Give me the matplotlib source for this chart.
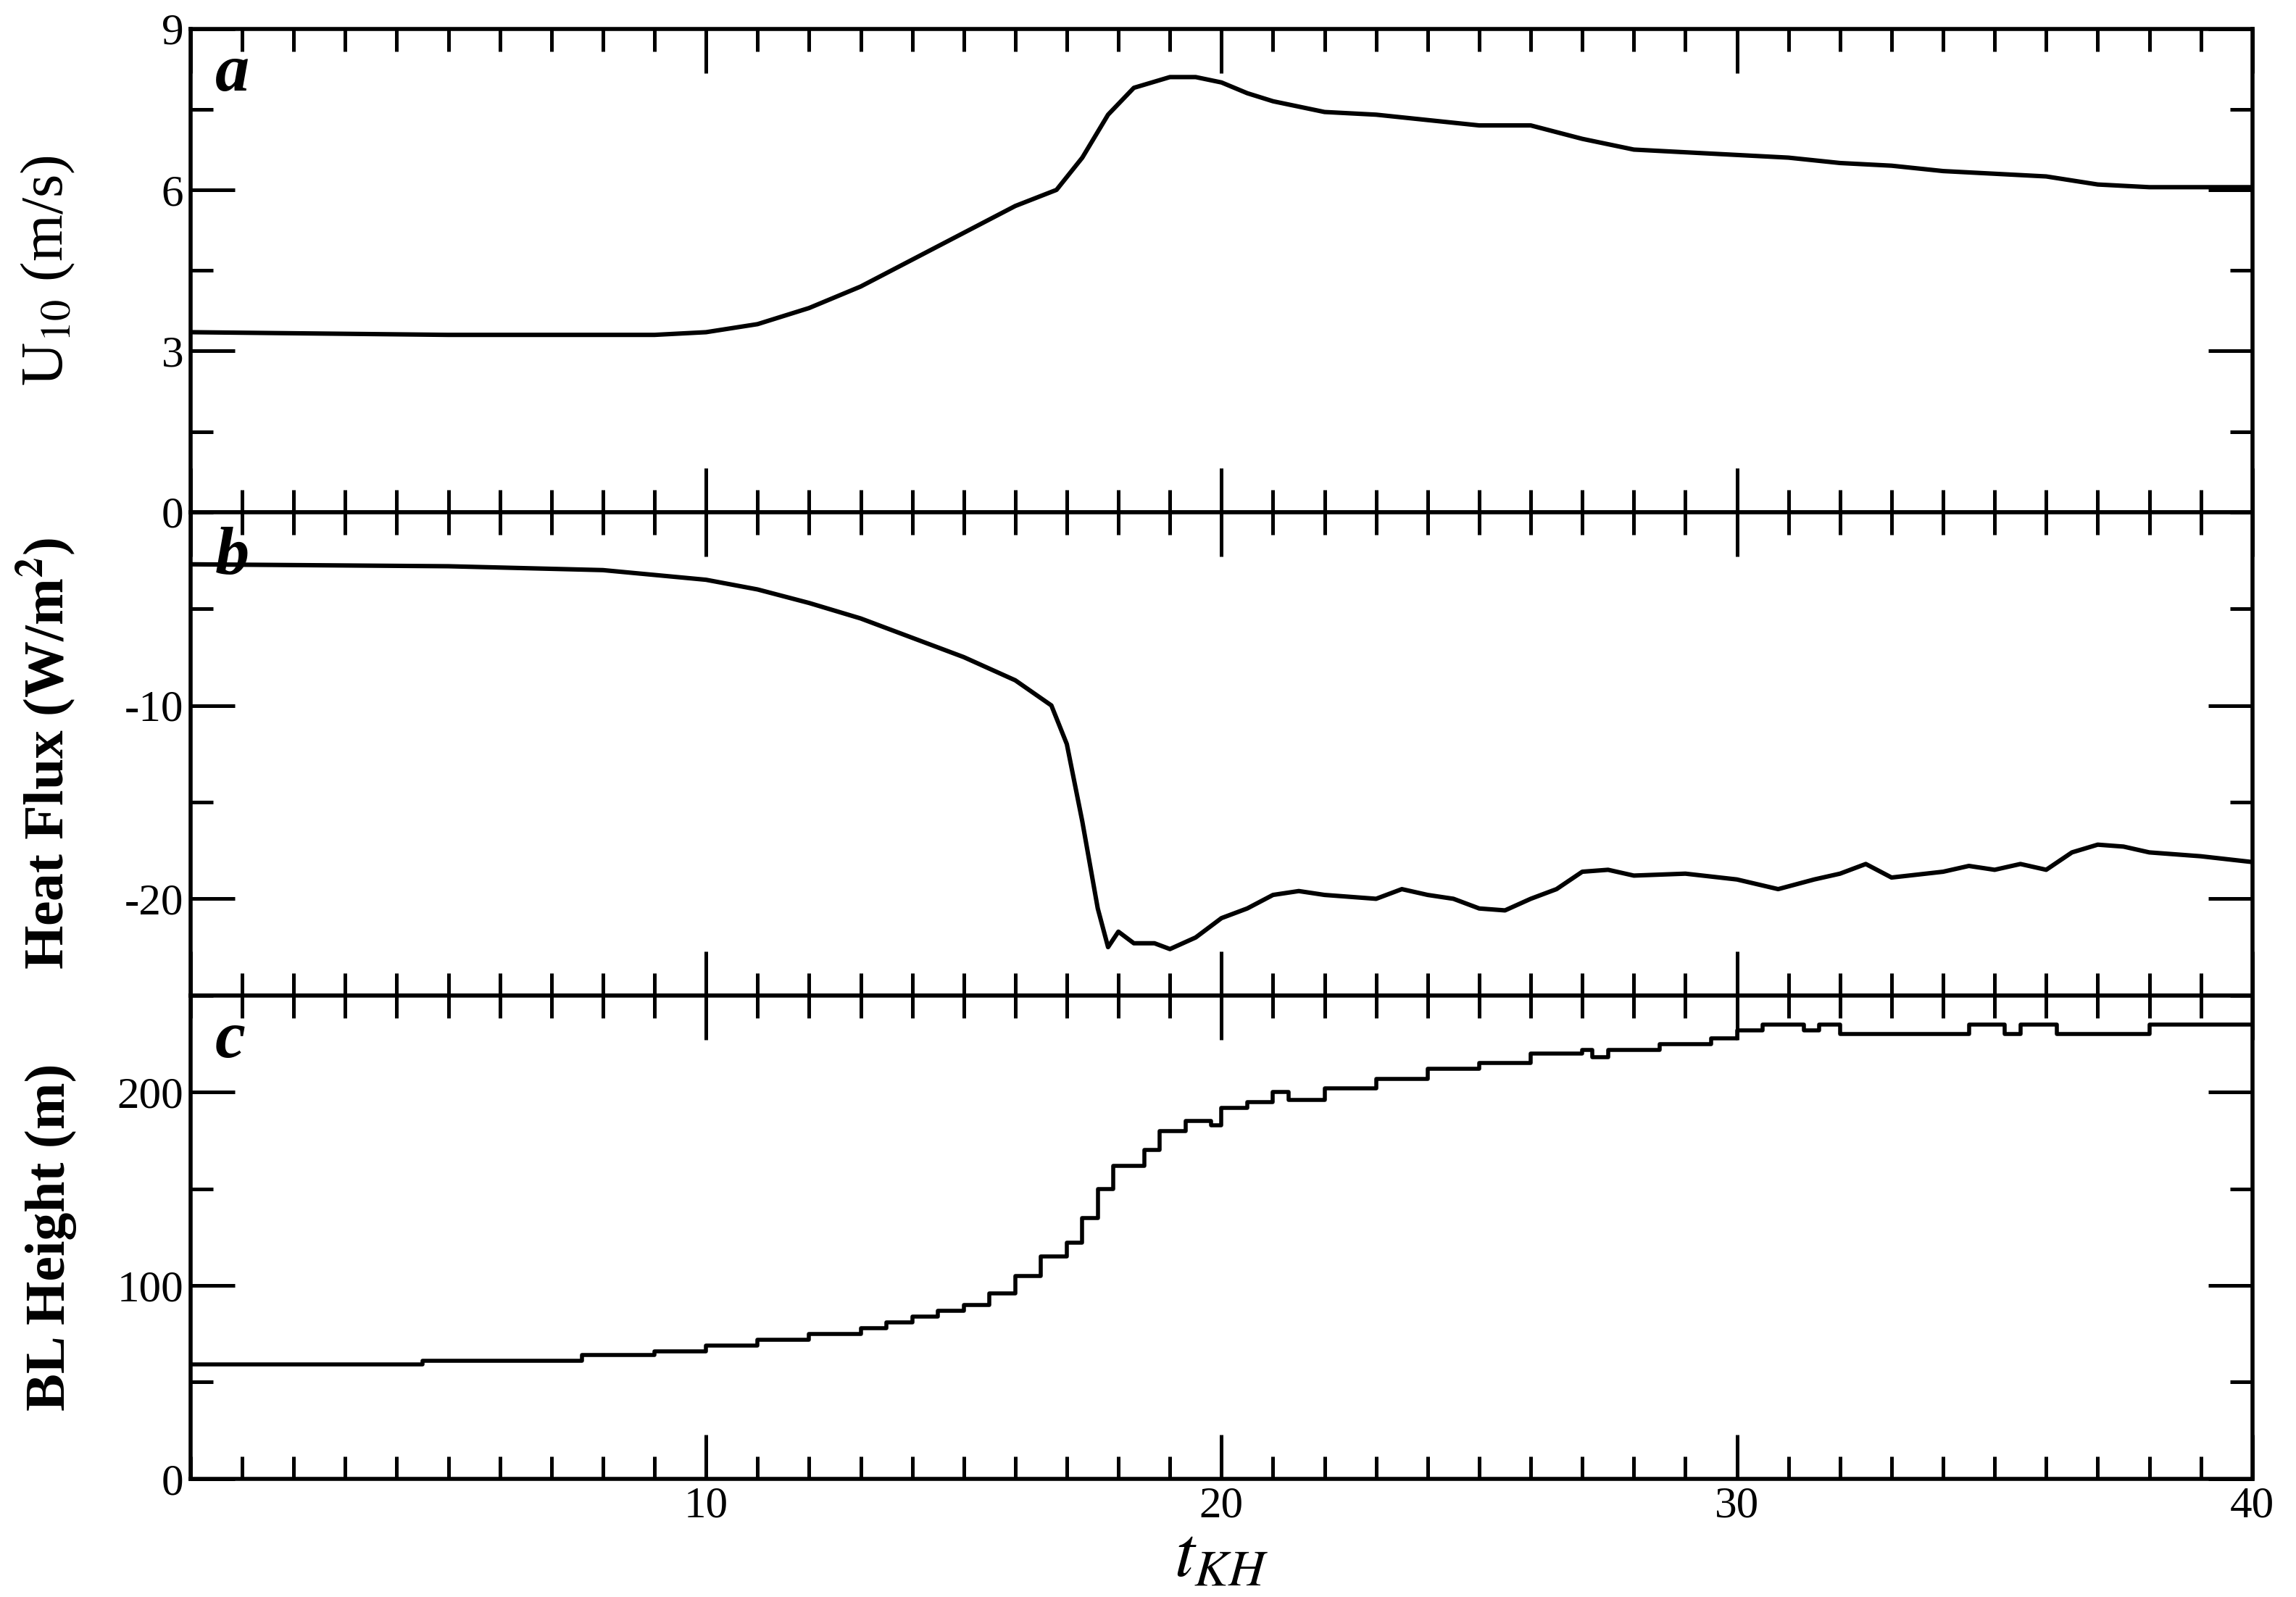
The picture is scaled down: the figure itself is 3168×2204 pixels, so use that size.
import matplotlib
matplotlib.use("Agg")
import matplotlib.pyplot as plt
from matplotlib.ticker import MultipleLocator, FixedLocator

plt.rcParams['font.family'] = ['Liberation Serif', 'DejaVu Serif']
plt.rcParams['mathtext.fontset'] = 'stix'
plt.rcParams['axes.unicode_minus'] = False

t_u = [0,5,9,10,11,12,13,14,15,16,16.8,17.3,17.8,18.3,19,19.5,20,20.5,21,22,23,24,25,26,27,28,29,30,31,32,33,34,35,36,37,38,40]
u10 = [3.35,3.3,3.3,3.35,3.5,3.8,4.2,4.7,5.2,5.7,6.0,6.6,7.4,7.9,8.1,8.1,8.0,7.8,7.65,7.45,7.4,7.3,7.2,7.2,6.95,6.75,6.7,6.65,6.6,6.5,6.45,6.35,6.3,6.25,6.1,6.05,6.05]

t_h = [0,5,8,10,11,12,13,14,15,16,16.7,17,17.3,17.6,17.8,18,18.3,18.7,19,19.5,20,20.5,21,21.5,22,23,23.5,24,24.5,25,25.5,26,26.5,27,27.5,28,29,30,30.8,31.5,32,32.5,33,34,34.5,35,35.5,36,36.5,37,37.5,38,39,40]
heat = [-2.7,-2.8,-3.0,-3.5,-4,-4.7,-5.5,-6.5,-7.5,-8.7,-10,-12,-16,-20.5,-22.5,-21.7,-22.3,-22.3,-22.6,-22,-21,-20.5,-19.8,-19.6,-19.8,-20,-19.5,-19.8,-20,-20.5,-20.6,-20,-19.5,-18.6,-18.5,-18.8,-18.7,-19,-19.5,-19,-18.7,-18.2,-18.9,-18.6,-18.3,-18.5,-18.2,-18.5,-17.6,-17.2,-17.3,-17.6,-17.8,-18.1]

t_b = [0,4.5,7.6,9,10,11,12,13,13.5,14,14.5,15,15.5,16,16.5,17,17.3,17.6,17.9,18.5,18.8,19.3,19.8,20,20.5,21,21.3,22,23,24,25,26,27,27.2,27.5,28.5,29.5,30,30.5,31.3,31.6,32,34.5,35.2,35.5,36.2,38,40]
blh = [59,61,64,66,69,72,75,78,81,84,87,90,96,105,115,122,135,150,162,170,180,185,183,192,195,200,196,202,207,212,215,220,222,218,222,225,228,232,235,232,235,230,235,230,235,230,235,235]

fig = plt.figure(figsize=(15.84, 11.02), dpi=200)
L, R, T, B = 0.083, 0.981, 0.982, 0.074
h = (T - B) / 3
axes = [fig.add_axes([L, T - (i + 1) * h, R - L, h]) for i in range(3)]
a1, a2, a3 = axes
a1.plot(t_u, u10, color='k', lw=2.2)
a2.plot(t_h, heat, color='k', lw=2.2)
a3.plot(t_b, blh, color='k', lw=2, drawstyle='steps-post')

a1.set_ylim(0, 9); a1.yaxis.set_major_locator(MultipleLocator(3)); a1.yaxis.set_minor_locator(MultipleLocator(1.5))
a2.set_ylim(-25, 0); a2.yaxis.set_major_locator(FixedLocator([-20, -10])); a2.yaxis.set_minor_locator(MultipleLocator(5))
a3.set_ylim(0, 250); a3.yaxis.set_major_locator(FixedLocator([0, 100, 200])); a3.yaxis.set_minor_locator(MultipleLocator(50))

for ax, lab in zip(axes, 'abc'):
    ax.set_xlim(0, 40)
    ax.xaxis.set_major_locator(MultipleLocator(10))
    ax.xaxis.set_minor_locator(MultipleLocator(1))
    ax.tick_params(which='both', direction='in', top=True, right=True, labelsize=22, width=1.8)
    ax.tick_params(which='major', length=22)
    ax.tick_params(which='minor', length=11)
    for s in ax.spines.values():
        s.set_linewidth(2)
    ax.text(0.012, 0.97, lab, transform=ax.transAxes, fontsize=34, fontweight='bold',
            style='italic', va='top', ha='left')
    if ax is not a3:
        ax.tick_params(labelbottom=False)

a3.set_xticks([10, 20, 30, 40])
a3.set_xticks(range(0, 41), minor=True)
a1.set_ylabel('U$_{10}$ (m/s)', fontsize=30)
a2.set_ylabel('Heat Flux (W/m$^{\\mathbf{2}}$)', fontsize=28, fontweight='bold')
a3.set_ylabel('BL Height (m)', fontsize=28, fontweight='bold')
a3.set_xlabel('$t_{KH}$', fontsize=36, labelpad=0)
for ax in axes:
    ax.yaxis.set_label_coords(-0.055, 0.5)

fig.savefig('out.png', dpi=200)
